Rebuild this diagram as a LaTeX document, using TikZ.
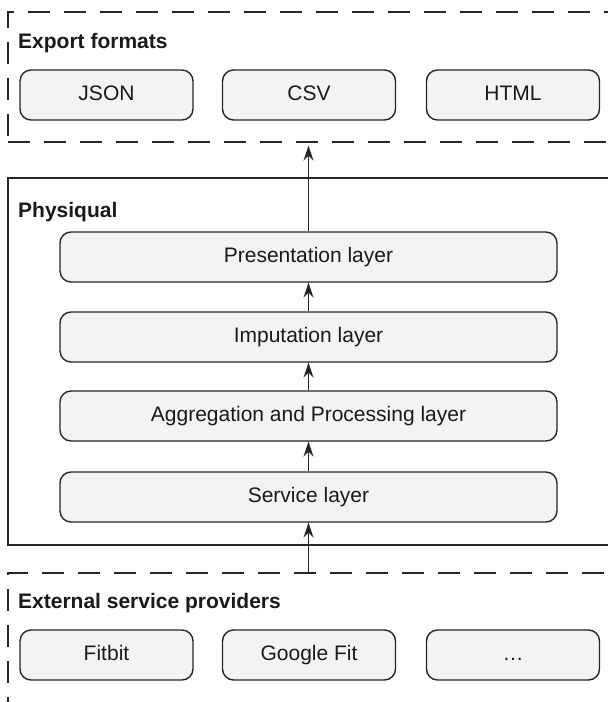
\documentclass[tikz,border=0pt]{standalone}
\usepackage{fontspec}
\setmainfont{Liberation Sans}
\usetikzlibrary{arrows.meta}
\definecolor{boxfill}{HTML}{F2F3F2}
\definecolor{linecol}{HTML}{262626}
\definecolor{textcol}{HTML}{1A1A1A}
\begin{document}
\begin{tikzpicture}[x=1pt,y=-1pt,
  every node/.style={font=\fontsize{21}{25}\selectfont, text=textcol},
  item/.style={draw=linecol, line width=1.4pt, fill=boxfill, rounded corners=11pt, minimum width=173pt, minimum height=50pt, inner sep=0pt, text height=15pt, text depth=4pt},
  layer/.style={item, minimum width=497pt},
  group/.style={draw=linecol, line width=1.4pt, inner sep=0pt},
  dgroup/.style={group, dash pattern=on 22pt off 14pt},
  title/.style={font=\bfseries\fontsize{21}{25}\selectfont, anchor=west, inner sep=0pt},
  conn/.style={draw=linecol, line width=1.3pt, -{Stealth[length=15pt,width=10pt,inset=5pt]}}]
\useasboundingbox (0,0) rectangle (608,702);
\clip (0,0) rectangle (608,702);
% containers
\node[dgroup, minimum width=640pt, minimum height=130pt] (export) at (328,77) {};
\node[group, minimum width=640pt, minimum height=367pt] (physiqual) at (328,361.5) {};
\node[dgroup, minimum width=640pt, minimum height=180pt] (external) at (328,663) {};
% titles
\node[title] (exporttitle) at (18,43) {Export formats};
\node[title] (phystitle) at (18,212) {Physiqual};
\node[title] (exttitle) at (18,603) {External service providers};
% export formats
\node[item] (json) at (106.5,95) {JSON};
\node[item] (csv) at (309,95) {CSV};
\node[item] (html) at (513,95) {HTML};
% layers
\node[layer] (pres) at (308.5,257) {Presentation layer};
\node[layer] (imp) at (308.5,337) {Imputation layer};
\node[layer] (agg) at (308.5,416) {Aggregation and Processing layer};
\node[layer] (serv) at (308.5,497) {Service layer};
% providers
\node[item] (fitbit) at (106.5,655) {Fitbit};
\node[item] (gfit) at (309,655) {Google Fit};
\node[item] (more) at (513,655) {\dots};
% connectors
\draw[conn] (external.north -| serv.south) -- (serv.south);
\draw[conn] (serv.north) -- (agg.south);
\draw[conn] (agg.north) -- (imp.south);
\draw[conn] (imp.north) -- (pres.south);
\draw[conn] (pres.north) -- ([yshift=-3pt]pres.north |- export.south);
\end{tikzpicture}
\end{document}
